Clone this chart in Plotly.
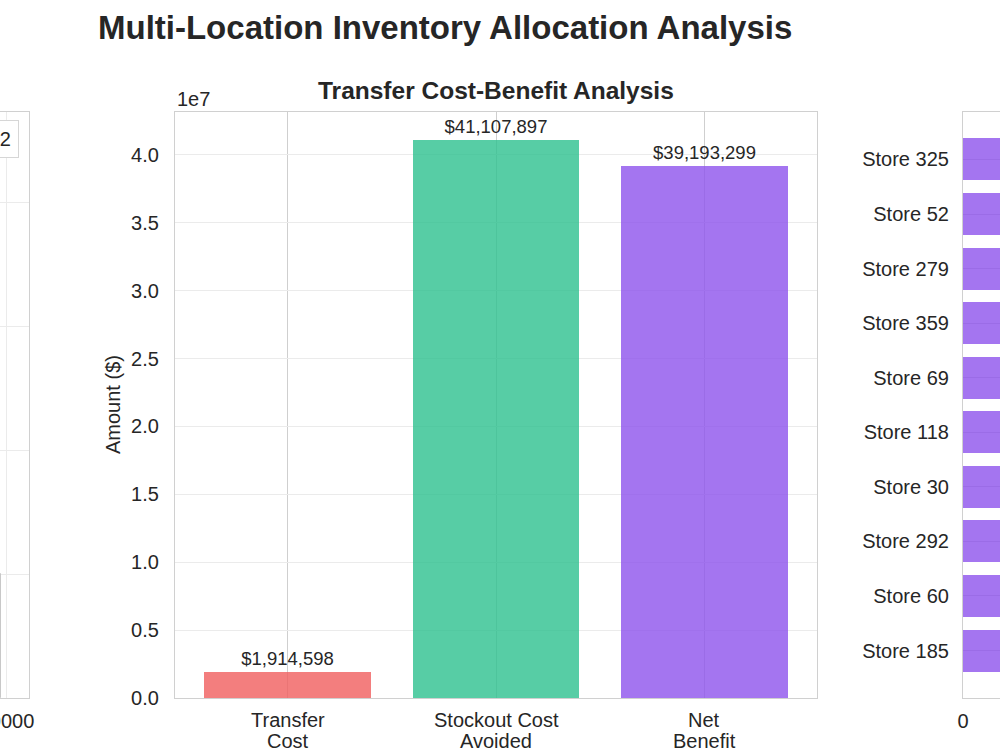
import plotly.graph_objects as go

W, H = 1000, 750

# ---------------- data ----------------
# centre panel: transfer cost-benefit
cb_categories = ["Transfer Cost", "Stockout Cost Avoided", "Net Benefit"]
cb_label_line1 = ["Transfer", "Stockout Cost", "Net"]
cb_label_line2 = ["Cost", "Avoided", "Benefit"]
cb_values = [1914598, 41107897, 39193299]
cb_colors = ["#F05E5E", "#2DC08E", "#8D53EC"]
cb_tick_values = [0, 5e6, 1e7, 1.5e7, 2e7, 2.5e7, 3e7, 3.5e7, 4e7]
cb_tick_labels = ["0.0", "0.5", "1.0", "1.5", "2.0", "2.5", "3.0", "3.5", "4.0"]

# right panel: top receiving stores (only the left edge of the bars is visible)
store_names = ["Store 325", "Store 52", "Store 279", "Store 359", "Store 69",
               "Store 118", "Store 30", "Store 292", "Store 60", "Store 185"]
store_units = [2400, 2350, 2300, 2260, 2220, 2180, 2150, 2120, 2090, 2060]
right_tick_values = [0]
right_tick_labels = ["0"]

# left panel: only its right edge is visible
left_bin_centers = [9200]
left_counts = [1]
left_tick_values = [10000]
left_tick_labels = ["10000"]
left_grid_values = [0, 1, 2, 3, 4]

FONT = "Liberation Sans, Arial, sans-serif"
TXT = "#262626"
GRID = "#ebebeb"
CATGRID = "#cfcfcf"
SPINE = "#d0d0d0"


def px_x(p):
    return p / W


def px_y(p):
    return 1 - p / H


fig = go.Figure()

# centre bars
fig.add_trace(go.Bar(
    x=cb_categories, y=cb_values, width=0.8,
    marker=dict(color=cb_colors, opacity=0.8, line=dict(width=0)),
    text=["${:,.0f}".format(v) for v in cb_values],
    textposition="outside", cliponaxis=False, constraintext="none",
    textfont=dict(family=FONT, size=18.5, color=TXT),
    xaxis="x", yaxis="y", showlegend=False,
))

# left panel bar (edge only visible)
fig.add_trace(go.Bar(
    x=left_bin_centers, y=left_counts, width=400,
    marker=dict(color="#f4f4f4", line=dict(color="#c8c8c8", width=1)),
    xaxis="x2", yaxis="y2", showlegend=False,
))

# right panel bars
fig.add_trace(go.Bar(
    x=store_units, y=store_names, orientation="h", width=0.77,
    marker=dict(color="#8D53EC", opacity=0.8, line=dict(width=0)),
    xaxis="x3", yaxis="y3", showlegend=False,
))

ydom = [px_y(698), px_y(112)]

axis_common = dict(showline=True, mirror=True, linecolor=SPINE, linewidth=1.2,
                   zeroline=False, ticks="", automargin=False,
                   tickfont=dict(family=FONT, size=20, color=TXT))

fig.update_layout(
    template="none",
    width=W, height=H, margin=dict(l=0, r=0, t=0, b=0, autoexpand=False),
    paper_bgcolor="white", plot_bgcolor="white",
    font=dict(family=FONT, color=TXT),
    bargap=0,
    xaxis=dict(domain=[px_x(175), px_x(817)], type="category",
               categoryorder="array", categoryarray=cb_categories,
               range=[-0.54, 2.54], showgrid=True, gridcolor=CATGRID,
               gridwidth=1, showticklabels=False, **axis_common),
    yaxis=dict(domain=ydom, range=[0, 43163292], tickvals=cb_tick_values,
               ticktext=cb_tick_labels, showgrid=True, gridcolor=GRID,
               ticklabelstandoff=11, **axis_common),
    xaxis2=dict(domain=[0, px_x(29)], range=[9350, 12250], anchor="y2",
                tickvals=left_tick_values, ticktext=left_tick_labels,
                ticklabeloverflow="allow",
                showgrid=True, gridcolor=GRID, ticklabelstandoff=5, **axis_common),
    yaxis2=dict(domain=ydom, range=[0, 4.726], anchor="x2",
                tickvals=left_grid_values, showticklabels=False,
                showgrid=True, gridcolor=GRID, **axis_common),
    xaxis3=dict(domain=[px_x(963), 1.0], range=[0, 1800], anchor="y3",
                tickvals=right_tick_values, ticktext=right_tick_labels,
                ticklabeloverflow="allow",
                showgrid=True, gridcolor=GRID, ticklabelstandoff=5, **axis_common),
    yaxis3=dict(domain=ydom, type="category", categoryorder="array",
                categoryarray=store_names, range=[9.87, -0.87], anchor="x3",
                showgrid=True, gridcolor=CATGRID, ticklabelstandoff=9,
                **axis_common),
)

annotations = [
    dict(text="<b>Multi-Location Inventory Allocation Analysis</b>",
         x=px_x(445), y=px_y(28), xanchor="center", yanchor="middle",
         font=dict(family=FONT, size=33, color=TXT)),
    dict(text="<b>Transfer Cost-Benefit Analysis</b>",
         x=px_x(496), y=px_y(91), xanchor="center", yanchor="middle",
         font=dict(family=FONT, size=24.5, color=TXT)),
    dict(text="1e7", x=px_x(175), y=px_y(99), xanchor="left", yanchor="middle",
         font=dict(family=FONT, size=20, color=TXT)),
    dict(text="Amount ($)", textangle=-90, x=px_x(113), y=px_y(405),
         xanchor="center", yanchor="middle",
         font=dict(family=FONT, size=20, color=TXT)),
    dict(text="Transfers \u2265 2", x=px_x(19), y=px_y(139), xanchor="right",
         yanchor="middle", bordercolor="#d6d6d6", borderwidth=1, borderpad=7,
         bgcolor="white", font=dict(family=FONT, size=20, color=TXT)),
]
for a in annotations:
    a.update(xref="paper", yref="paper")

# two-line category labels under the centre panel
for cat, l1, l2 in zip(cb_categories, cb_label_line1, cb_label_line2):
    for txt, ypx in ((l1, 720), (l2, 741)):
        annotations.append(dict(
            text=txt, xref="x", x=cat, yref="paper", y=px_y(ypx),
            xanchor="center", yanchor="middle",
            font=dict(family=FONT, size=20, color=TXT)))

for a in annotations:
    a.update(showarrow=False)
fig.update_layout(annotations=annotations)

fig.write_html("out.html")
